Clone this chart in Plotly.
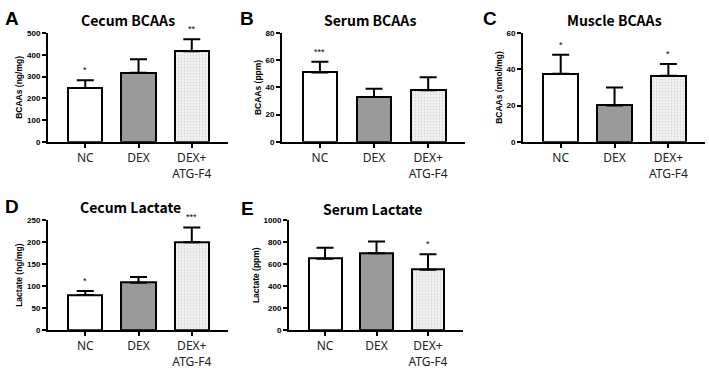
import plotly.graph_objects as go

W, H = 709, 370

categories = ["NC", "DEX", "DEX+<br>ATG-F4"]

cecum_bcaa = [248, 318, 417]
cecum_bcaa_err = [35, 62, 55]
cecum_bcaa_sig = ["*", "", "**"]

serum_bcaa = [51, 33, 38]
serum_bcaa_err = [8, 6, 9.5]
serum_bcaa_sig = ["***", "", ""]

muscle_bcaa = [37.5, 20, 36.5]
muscle_bcaa_err = [10.5, 10, 6.5]
muscle_bcaa_sig = ["*", "", "*"]

cecum_lac = [80, 108, 200]
cecum_lac_err = [9, 13, 34]
cecum_lac_sig = ["*", "", "***"]

serum_lac = [650, 700, 550]
serum_lac_err = [100, 108, 140]
serum_lac_sig = ["", "", "*"]

panels = [
    dict(letter="A", title="Cecum BCAAs", ytitle="BCAAs (ng/mg)", vals=cecum_bcaa, err=cecum_bcaa_err,
         sig=cecum_bcaa_sig, ymax=500, dtick=100, px=(48, 228), py=(30, 142),
         tx=128, ty=17, lx=12, ly=15),
    dict(letter="B", title="Serum BCAAs", ytitle="BCAAs (ppm)", vals=serum_bcaa, err=serum_bcaa_err,
         sig=serum_bcaa_sig, ymax=80, dtick=20, px=(282, 465), py=(30, 142),
         tx=370, ty=17, lx=247, ly=15),
    dict(letter="C", title="Muscle BCAAs", ytitle="BCAAs (nmol/mg)", vals=muscle_bcaa, err=muscle_bcaa_err,
         sig=muscle_bcaa_sig, ymax=60, dtick=20, px=(523, 705), py=(30, 142),
         tx=614, ty=17, lx=490, ly=15),
    dict(letter="D", title="Cecum Lactate", ytitle="Lactate (ng/mg)", vals=cecum_lac, err=cecum_lac_err,
         sig=cecum_lac_sig, ymax=250, dtick=50, px=(48, 228), py=(223, 336),
         tx=130, ty=209, lx=12, ly=209),
    dict(letter="E", title="Serum Lactate", ytitle="Lactate (ppm)", vals=serum_lac, err=serum_lac_err,
         sig=serum_lac_sig, ymax=1000, dtick=200, px=(289, 463), py=(223, 336),
         tx=373, ty=211, lx=247, ly=211),
]

fig = go.Figure()
colors = ["white", "#9a9a9a", "#f2f2f2"]
patterns = ["", "", "."]

annotations = []
for i, p in enumerate(panels):
    k = "" if i == 0 else str(i + 1)
    xa, ya = "x" + k, "y" + k
    xs = [0, 1, 2]
    for j in range(3):
        fig.add_trace(go.Bar(
            x=[xs[j]], y=[p["vals"][j]], xaxis=xa, yaxis=ya, width=0.64,
            marker=dict(color=colors[j], line=dict(color="black", width=2),
                        pattern=dict(shape=patterns[j], fgcolor="#b8b8b8", bgcolor="#f4f4f4",
                                     size=3, solidity=0.3)),
            error_y=dict(type="data", symmetric=False, array=[p["err"][j]], arrayminus=[0],
                         color="black", thickness=2, width=8.5),
            showlegend=False, hoverinfo="skip"))
        if p["sig"][j]:
            annotations.append(dict(x=xs[j], y=p["vals"][j] + p["err"][j], xref=xa, yref=ya,
                                    text=p["sig"][j], showarrow=False, yanchor="bottom", yshift=3,
                                    font=dict(size=9, color="black", family="Liberation Sans")))
    xd = [p["px"][0] / W, p["px"][1] / W]
    yd = [1 - p["py"][1] / H, 1 - p["py"][0] / H]
    fig.layout["xaxis" + k] = dict(
        domain=xd, anchor=ya, range=[-0.7, 2.68], tickvals=xs, ticktext=categories,
        showline=True, linecolor="black", linewidth=2, ticks="outside", ticklen=4,
        tickwidth=1.5, tickcolor="black", showgrid=False, zeroline=False, fixedrange=True,
        tickfont=dict(size=12, color="#222", family="Noto Sans"))
    fig.layout["yaxis" + k] = dict(
        domain=yd, anchor=xa, range=[0, p["ymax"]], dtick=p["dtick"], showline=True,
        linecolor="black", linewidth=2, ticks="outside", ticklen=4, tickwidth=1.5,
        tickcolor="black", showgrid=False, zeroline=False,
        tickfont=dict(size=8, color="black", family="Liberation Sans", weight="bold"),
        title=dict(text="<b>" + p["ytitle"] + "</b>", standoff=3,
                   font=dict(size=8.5, color="black", family="Liberation Sans")))
    annotations.append(dict(x=p["tx"] / W, y=1 - p["ty"] / H, xref="paper", yref="paper",
                            text="<b>" + p["title"] + "</b>", showarrow=False,
                            xanchor="center", yanchor="middle",
                            font=dict(size=14, color="black", family="Noto Sans CJK KR")))
    annotations.append(dict(x=p["lx"] / W, y=1 - p["ly"] / H, xref="paper", yref="paper",
                            text="<b>" + p["letter"] + "</b>", showarrow=False,
                            xanchor="center", yanchor="middle",
                            font=dict(size=19, color="black", family="Liberation Sans")))

fig.update_layout(width=W, height=H, margin=dict(l=0, r=0, t=0, b=0),
                  paper_bgcolor="white", plot_bgcolor="white", annotations=annotations,
                  bargap=0)
fig.write_html("out.html")
